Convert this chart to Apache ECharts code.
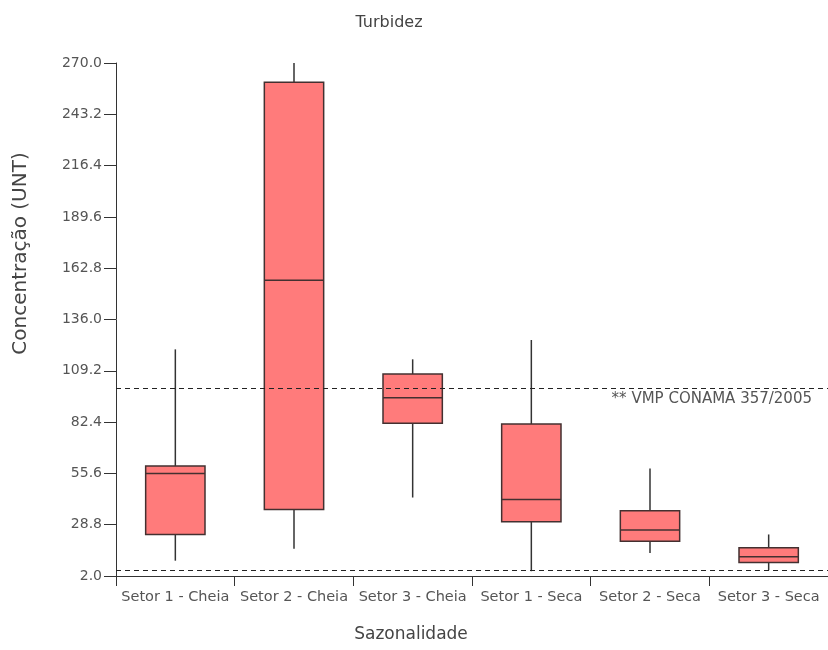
<!DOCTYPE html>
<html>
<head>
<meta charset="utf-8">
<script src="https://cdn.jsdelivr.net/npm/echarts@6/dist/echarts.min.js"></script>
<style>
  html, body { margin: 0; padding: 0; background: #fff; }
  #chart { width: 828px; height: 650px; }
</style>
</head>
<body>
<div id="chart"></div>
<script>
// data
var categories = ['Setor 1 - Cheia', 'Setor 2 - Cheia', 'Setor 3 - Cheia', 'Setor 1 - Seca', 'Setor 2 - Seca', 'Setor 3 - Seca'];
var whiskerLow  = [10, 16.3, 43, 4.5, 14, 5];
var q1          = [23.7, 36.7, 81.8, 30.3, 20.2, 9.1];
var median      = [55.6, 156.5, 95.1, 42, 26, 12];
var q3          = [59.5, 260, 107.5, 81.4, 36.1, 16.7];
var whiskerHigh = [120.4, 270, 115.2, 125.3, 58.2, 23.7];
var limitVMP = 100;
var limitLow = 5;
var yMin = 2, yMax = 270, yStep = 26.8;

var boxData = categories.map(function (c, i) {
    return [i, whiskerLow[i], q1[i], median[i], q3[i], whiskerHigh[i]];
});

var FONT = '"DejaVu Sans", sans-serif';

function renderBox(params, api) {
    var x = api.value(0);
    var lo = api.coord([x, api.value(1)]);
    var b1 = api.coord([x, api.value(2)]);
    var md = api.coord([x, api.value(3)]);
    var b3 = api.coord([x, api.value(4)]);
    var hi = api.coord([x, api.value(5)]);
    var w = api.size([1, 0])[0] * 0.5;
    var cx = lo[0];
    var ln = { stroke: '#333', lineWidth: 1.5 };
    return {
        type: 'group',
        children: [
            { type: 'line', shape: { x1: cx, y1: hi[1], x2: cx, y2: b3[1] }, style: ln },
            { type: 'line', shape: { x1: cx, y1: b1[1], x2: cx, y2: lo[1] }, style: ln },
            { type: 'rect', shape: { x: cx - w / 2, y: b3[1], width: w, height: b1[1] - b3[1] },
              style: { fill: '#ff7b7b', stroke: '#433030', lineWidth: 1.5 } },
            { type: 'line', shape: { x1: cx - w / 2, y1: md[1], x2: cx + w / 2, y2: md[1] },
              style: { stroke: '#433030', lineWidth: 1.5 } }
        ]
    };
}

var chart = echarts.init(document.getElementById('chart'));
chart.setOption({
    animation: false,
    title: {
        text: 'Turbidez',
        left: 384,
        top: 10,
        textAlign: 'center',
        textStyle: { fontFamily: FONT, fontSize: 16, fontWeight: 'normal', color: '#444' }
    },
    grid: { left: 116, right: -7, top: 63, bottom: 74 },
    xAxis: {
        type: 'category',
        data: categories,
        boundaryGap: true,
        name: 'Sazonalidade',
        nameLocation: 'middle',
        nameGap: 50,
        nameTextStyle: { fontFamily: FONT, fontSize: 17, color: '#444', padding: [0, 122, 0, 0] },
        axisLine: { lineStyle: { color: '#333', width: 1 } },
        axisTick: { show: true, length: 10, lineStyle: { color: '#333' } },
        axisLabel: { fontFamily: FONT, fontSize: 14.5, color: '#555', margin: 14, interval: 0 },
        splitLine: { show: false }
    },
    yAxis: {
        type: 'value',
        min: yMin,
        max: yMax,
        interval: yStep,
        name: 'Concentração (UNT)',
        nameLocation: 'middle',
        nameRotate: 90,
        nameGap: 85,
        nameTextStyle: { fontFamily: FONT, fontSize: 20, color: '#444', padding: [0, 0, 0, 132] },
        axisLine: { show: true, lineStyle: { color: '#333', width: 1 } },
        axisTick: { show: true, length: 12, lineStyle: { color: '#333' } },
        axisLabel: {
            fontFamily: FONT, fontSize: 14, color: '#555', margin: 14,
            formatter: function (v) { return v.toFixed(1); }
        },
        splitLine: { show: false }
    },
    series: [{
        type: 'custom',
        renderItem: renderBox,
        data: boxData,
        encode: { x: 0, y: [1, 2, 3, 4, 5] },
        markLine: {
            silent: true,
            symbol: 'none',
            lineStyle: { type: [5, 4], color: '#222', width: 1 },
            data: [
                { yAxis: limitVMP, label: {
                    show: true, position: 'insideEndBottom', distance: 3,
                    formatter: '** VMP CONAMA 357/2005',
                    fontFamily: FONT, fontSize: 15, color: '#555',
                    padding: [0, 13, 0, 0]
                } },
                { yAxis: limitLow, label: { show: false } }
            ]
        }
    }]
});
</script>
</body>
</html>
